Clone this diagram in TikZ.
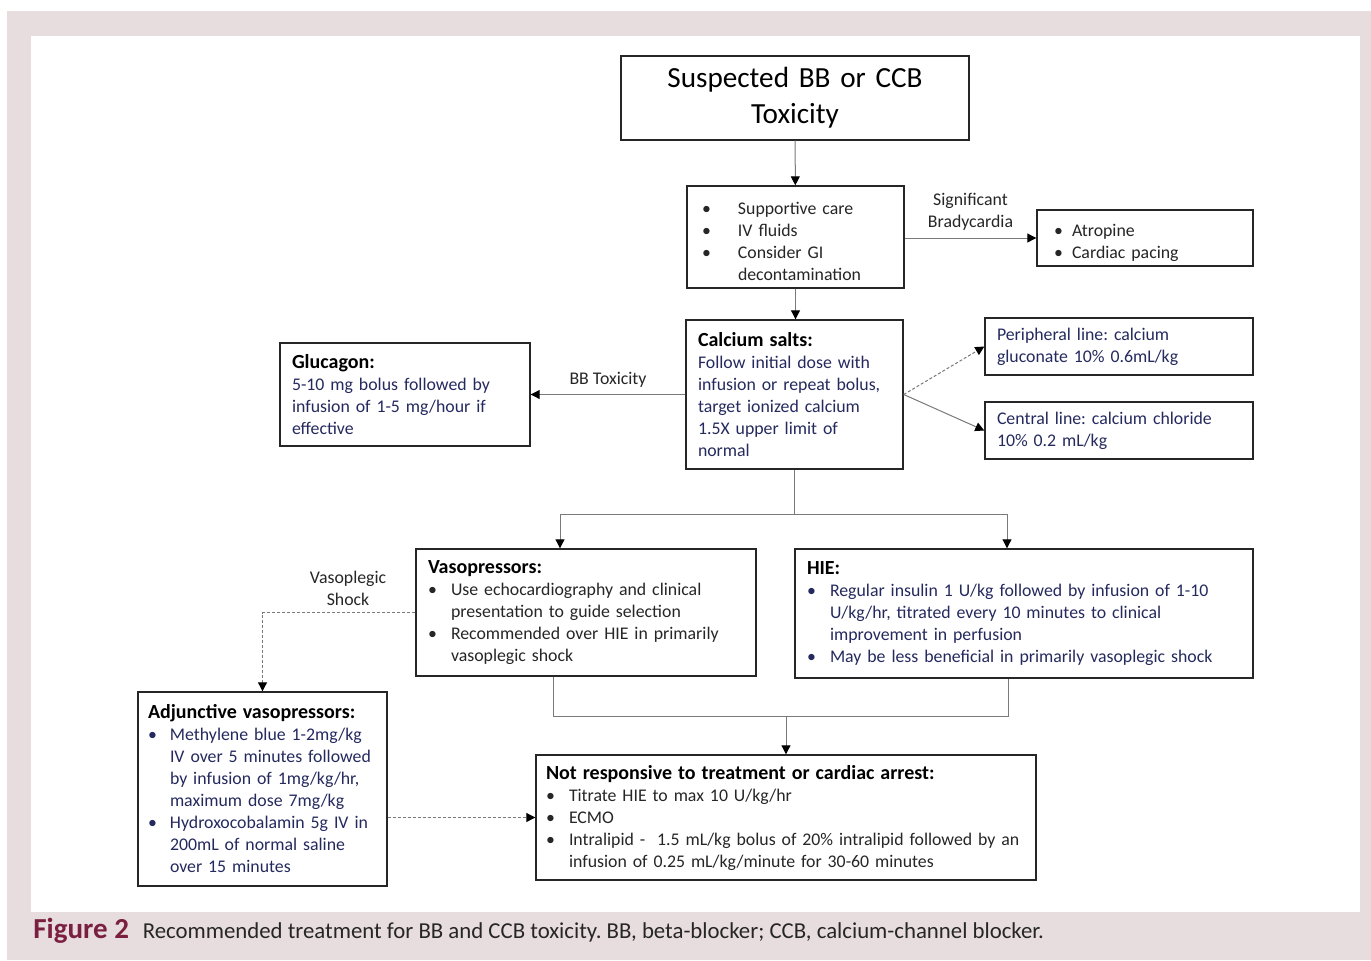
\documentclass[tikz,border=0pt]{standalone}
\usepackage{fontspec}
\setmainfont{Carlito}
\usetikzlibrary{arrows.meta}

\definecolor{pagepink}{HTML}{E8DDDE}
\definecolor{capred}{HTML}{7A1F40}
\definecolor{navy}{HTML}{252A5E}
\definecolor{linkgray}{HTML}{7A7A7A}

\setlength{\parindent}{0pt}
\frenchspacing
\hyphenpenalty=10000
% bullet line with hanging indent
\newcommand{\bul}[2][11.5pt]{\par\noindent\hangindent=#1\hangafter=1\makebox[#1][l]{\textbullet}#2\par}
% bold first line of a box
\newcommand{\head}[1]{{\fontsize{10}{12}\selectfont\bfseries\color{black}#1}\par}

\begin{document}
\begin{tikzpicture}[x=0.5pt, y=-0.5pt,
    every node/.style={font=\fontsize{8.9}{11}\selectfont},
    cbox/.style={draw=black!85, line width=0.7pt, fill=white, align=left, inner ysep=0pt},
    link/.style={draw=linkgray, line width=0.5pt},
    arrow/.style={link, -{Triangle[length=4.5pt, width=4.5pt, color=black]}},
    dashlink/.style={arrow, dash pattern=on 1.5pt off 1pt},
    tag/.style={text=black!85}]

    % page and panel
    \fill[white] (0,0) rectangle (1371,960);
    \fill[pagepink] (7,11) rectangle (1371,960);
    \fill[white] (31,36) rectangle (1360,912);
    \useasboundingbox (0,0) rectangle (1371,960);

    \node[cbox, align=center, minimum width=174pt, minimum height=42pt, text width=160pt,
        font=\fontsize{14.6}{18}\selectfont] (susp) at (795,98) {Suspected BB or CCB\\Toxicity};

    \node[cbox, minimum width=108.5pt, minimum height=51pt, text width=93.5pt, inner xsep=7.5pt,
        text=black!85] (care) at (795.5,237)
        {\bul[18pt]{Supportive care}\bul[18pt]{IV fluids}\bul[18pt]{Consider GI\newline decontamination}};

    \node[cbox, minimum width=108pt, minimum height=28pt, text width=91pt, inner xsep=8.5pt,
        text=black!85] (atro) at (1145,238)
        {\bul[9pt]{Atropine}\bul[9pt]{Cardiac pacing}};

    \node[cbox, minimum width=108.5pt, minimum height=74.5pt, text width=96.5pt, inner xsep=6pt,
        text=navy] (calc) at (794.5,394.5)
        {\head{Calcium salts:}Follow initial dose with\\infusion or repeat bolus,\\target ionized calcium\\1.5X upper limit of\\normal};

    \node[cbox, minimum width=125pt, minimum height=51.5pt, text width=113pt, inner xsep=6pt,
        text=navy] (gluc) at (405,394.5)
        {\head{Glucagon:}5-10 mg bolus followed by\\infusion of 1-5 mg/hour if\\effective};

    \node[cbox, minimum width=134pt, minimum height=28.5pt, text width=122pt, inner xsep=6pt,
        text=navy] (peri) at (1119,346.5) {Peripheral line: calcium\\gluconate 10\% 0.6mL/kg};
    \node[cbox, minimum width=134pt, minimum height=28.5pt, text width=122pt, inner xsep=6pt,
        text=navy] (cent) at (1119,430.5) {Central line: calcium chloride\\10\% 0.2 mL/kg};

    \node[cbox, minimum width=170pt, minimum height=63.5pt, text width=158pt, inner xsep=6pt,
        text=black!85] (vaso) at (586,612.5)
        {\head{Vasopressors:}\bul{Use echocardiography and clinical\newline presentation to guide selection}%
         \bul{Recommended over HIE in primarily\newline vasoplegic shock}};

    \node[cbox, minimum width=229pt, minimum height=64.5pt, text width=217pt, inner xsep=6pt,
        text=navy] (hie) at (1024,613.5)
        {\head{HIE:}\bul{Regular insulin 1 U/kg followed by infusion of 1-10\newline U/kg/hr, titrated every 10 minutes to clinical\newline improvement in perfusion}%
         \bul{May be less beneficial in primarily vasoplegic shock}};

    \node[cbox, minimum width=124.5pt, minimum height=97pt, text width=114.5pt, inner xsep=5pt,
        text=navy] (adj) at (262.5,789)
        {\head{Adjunctive vasopressors:}\bul[11pt]{Methylene blue 1-2mg/kg\newline IV over 5 minutes followed\newline by infusion of 1mg/kg/hr,\newline maximum dose 7mg/kg}%
         \bul[11pt]{Hydroxocobalamin 5g IV in\newline 200mL of normal saline\newline over 15 minutes}};

    \node[cbox, minimum width=250pt, minimum height=62.5pt, text width=240pt, inner xsep=5pt,
        text=black!85] (resp) at (786,817.5)
        {\head{Not responsive to treatment or cardiac arrest:}\bul{Titrate HIE to max 10 U/kg/hr}\bul{ECMO}%
         \bul{Intralipid -~ 1.5 mL/kg bolus of 20\% intralipid followed by an\newline infusion of 0.25 mL/kg/minute for 30-60 minutes}};

    \draw[arrow] (susp) -- (care);
    \draw[arrow] (care.east |- atro.west) -- (atro.west)
        node[tag, midway, above, align=center] {Significant\\Bradycardia};
    \draw[arrow] (care.south) -- (care.south |- calc.north);
    \draw[arrow] (calc.west) -- (gluc.east) node[tag, midway, above] {BB Toxicity};
    \draw[dashlink] (calc.east) -- (peri.west);
    \draw[arrow] (calc.east) -- (cent.west);

    % split to vasopressors and HIE
    \draw[link] (calc.south) -- ++(0,45) coordinate (fork);
    \draw[arrow] (fork) -| ([xshift=-13pt]vaso.north);
    \draw[arrow] (fork) -| ([xshift=-8.5pt]hie.north);

    % both lead on to the last box
    \coordinate (merge) at (786,716);
    \draw[link] ([xshift=-16.5pt]vaso.south) |- (merge) -| ([xshift=-8pt]hie.south);
    \draw[arrow] (merge) -- (resp.north);

    \draw[dashlink] (vaso.west) -| (adj.north)
        node[tag, pos=0.22, above, align=center] {Vasoplegic\\Shock};
    \draw[dashlink] (adj.east |- resp.west) -- (resp.west);

    \node[anchor=base west, inner sep=0pt, text=capred, font=\fontsize{14.5}{16}\selectfont\bfseries]
        (fig) at (33,938) {Figure 2};
    \node[anchor=base west, inner sep=0pt, text=black!85, font=\fontsize{11.4}{13}\selectfont]
        (captxt) at ([xshift=6.5pt]fig.base east)
        {Recommended treatment for BB and CCB toxicity. BB, beta-blocker; CCB, calcium-channel blocker.};
\end{tikzpicture}
\end{document}
